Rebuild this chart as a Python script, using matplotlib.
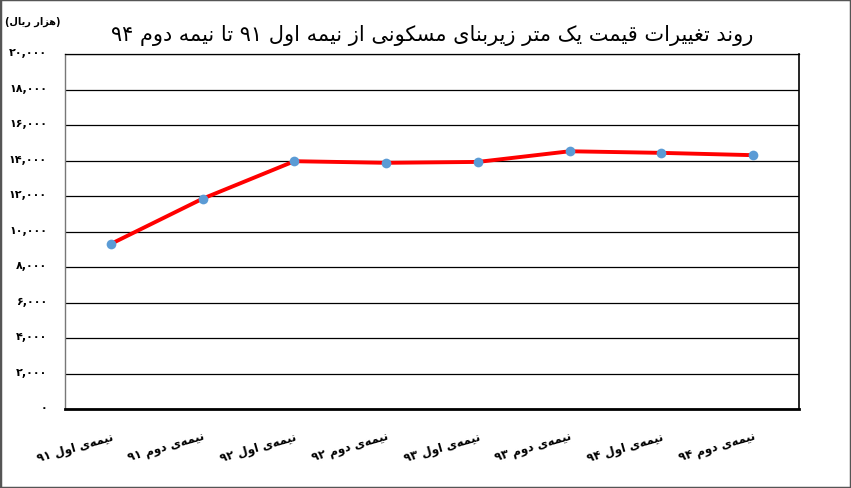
import re
import matplotlib
matplotlib.use("Agg")
import matplotlib.pyplot as plt
import matplotlib.transforms as mtransforms
from matplotlib.patches import Rectangle
from matplotlib.ticker import FixedLocator

plt.rcParams['font.family'] = ['DejaVu Sans']

# data (thousand rials per square metre)
periods = ["نیمه‌ی اول ۹۱", "نیمه‌ی دوم ۹۱", "نیمه‌ی اول ۹۲", "نیمه‌ی دوم ۹۲",
           "نیمه‌ی اول ۹۳", "نیمه‌ی دوم ۹۳", "نیمه‌ی اول ۹۴", "نیمه‌ی دوم ۹۴"]
prices = [9300, 11850, 13960, 13870, 13920, 14520, 14430, 14300]
yTicks = [0, 2000, 4000, 6000, 8000, 10000, 12000, 14000, 16000, 18000, 20000]

titleText = "روند تغییرات قیمت یک متر زیربنای مسکونی از نیمه اول ۹۱ تا نیمه دوم ۹۴"
unitText = "(هزار ریال)"

# contextual forms: isolated, final, initial, medial (None = joins on right only)
FORMS = {
    'ا': ('\uFE8D', '\uFE8E', None, None),
    'ب': ('\uFE8F', '\uFE90', '\uFE91', '\uFE92'),
    'ت': ('\uFE95', '\uFE96', '\uFE97', '\uFE98'),
    'د': ('\uFEA9', '\uFEAA', None, None),
    'ر': ('\uFEAD', '\uFEAE', None, None),
    'ز': ('\uFEAF', '\uFEB0', None, None),
    'س': ('\uFEB1', '\uFEB2', '\uFEB3', '\uFEB4'),
    'غ': ('\uFECD', '\uFECE', '\uFECF', '\uFED0'),
    'ق': ('\uFED5', '\uFED6', '\uFED7', '\uFED8'),
    'ل': ('\uFEDD', '\uFEDE', '\uFEDF', '\uFEE0'),
    'م': ('\uFEE1', '\uFEE2', '\uFEE3', '\uFEE4'),
    'ن': ('\uFEE5', '\uFEE6', '\uFEE7', '\uFEE8'),
    'ه': ('\uFEE9', '\uFEEA', '\uFEEB', '\uFEEC'),
    'و': ('\uFEED', '\uFEEE', None, None),
    'ک': ('\uFB8E', '\uFB8F', '\uFB90', '\uFB91'),
    'ی': ('\uFBFC', '\uFBFD', '\uFBFE', '\uFBFF'),
}
MIRROR = {'(': ')', ')': '('}
PERSIAN_DIGITS = str.maketrans("0123456789", "۰۱۲۳۴۵۶۷۸۹")


def shapeText(text: str) -> str:
    """
    Join Persian letters into their contextual forms and put the
    string in visual (left to right) order, keeping number runs as they are.
    """
    shaped = []
    for i, c in enumerate(text):
        if c not in FORMS:
            shaped.append(c)
            continue
        prev = text[i-1] if i > 0 else None
        nxt = text[i+1] if i + 1 < len(text) else None
        joinPrev = prev in FORMS and FORMS[prev][2] is not None
        joinNext = FORMS[c][2] is not None and nxt in FORMS
        iso, fin, ini, med = FORMS[c]
        if joinPrev and joinNext:
            shaped.append(med)
        elif joinPrev:
            shaped.append(fin)
        elif joinNext:
            shaped.append(ini)
        else:
            shaped.append(iso)
    shaped = "".join(shaped).replace('\u200c', '')

    tokens = re.findall(r"[۰-۹0-9,]+|[^۰-۹0-9,]+", shaped)
    visual = []
    for tok in reversed(tokens):
        if re.match(r"[۰-۹0-9]", tok):
            visual.append(tok)
        else:
            visual.append("".join(MIRROR.get(c, c) for c in reversed(tok)))
    return "".join(visual)


fig = plt.figure(figsize=(8.51, 4.89), dpi=100)
ax = fig.add_axes([65/851, 1 - 410/489, (799-65)/851, (410-55)/489])

xs = list(range(len(periods)))
ax.plot(xs, prices, '-', color='#FF0000', lw=2.8, zorder=3)
ax.plot(xs, prices, 'o', color='#5B9BD5', ms=7, mec='none', zorder=4)

ax.set_xlim(-0.5, len(periods) - 0.5)
ax.set_ylim(0, 20000)
ax.yaxis.set_major_locator(FixedLocator(yTicks))
ax.set_yticklabels([f"{v:,}".translate(PERSIAN_DIGITS) for v in yTicks],
                   fontsize=8, fontweight='bold')
ax.set_xticks(xs)
ax.set_xticklabels([shapeText(p) for p in periods], rotation=16,
                   ha='right', va='top', rotation_mode='anchor',
                   fontsize=8.5, fontweight='bold')
ax.tick_params(axis='y', length=0, pad=13)
ax.tick_params(axis='x', length=0, pad=15)

# y labels sit a little above their gridlines in the original
shiftUp = mtransforms.ScaledTranslation(0, 2/72, fig.dpi_scale_trans)
for label in ax.get_yticklabels():
    label.set_transform(label.get_transform() + shiftUp)

ax.grid(axis='y', color='black', lw=0.9)
ax.set_axisbelow(True)
ax.spines['left'].set_color('#777777')
ax.spines['left'].set_linewidth(1)
ax.spines['right'].set_linewidth(1.2)
ax.spines['top'].set_linewidth(0.9)
ax.spines['bottom'].set_linewidth(2)

fig.text(432/851, 1 - 35/489, shapeText(titleText), ha='center', va='center',
         fontsize=15)
fig.text(33/851, 1 - 22/489, shapeText(unitText), ha='center', va='center',
         fontsize=7, fontweight='bold')

fig.patches.append(Rectangle((0, 0), 1, 1, transform=fig.transFigure,
                             fill=False, edgecolor='#555555', lw=2.5))

fig.savefig("out.png", dpi=100)
